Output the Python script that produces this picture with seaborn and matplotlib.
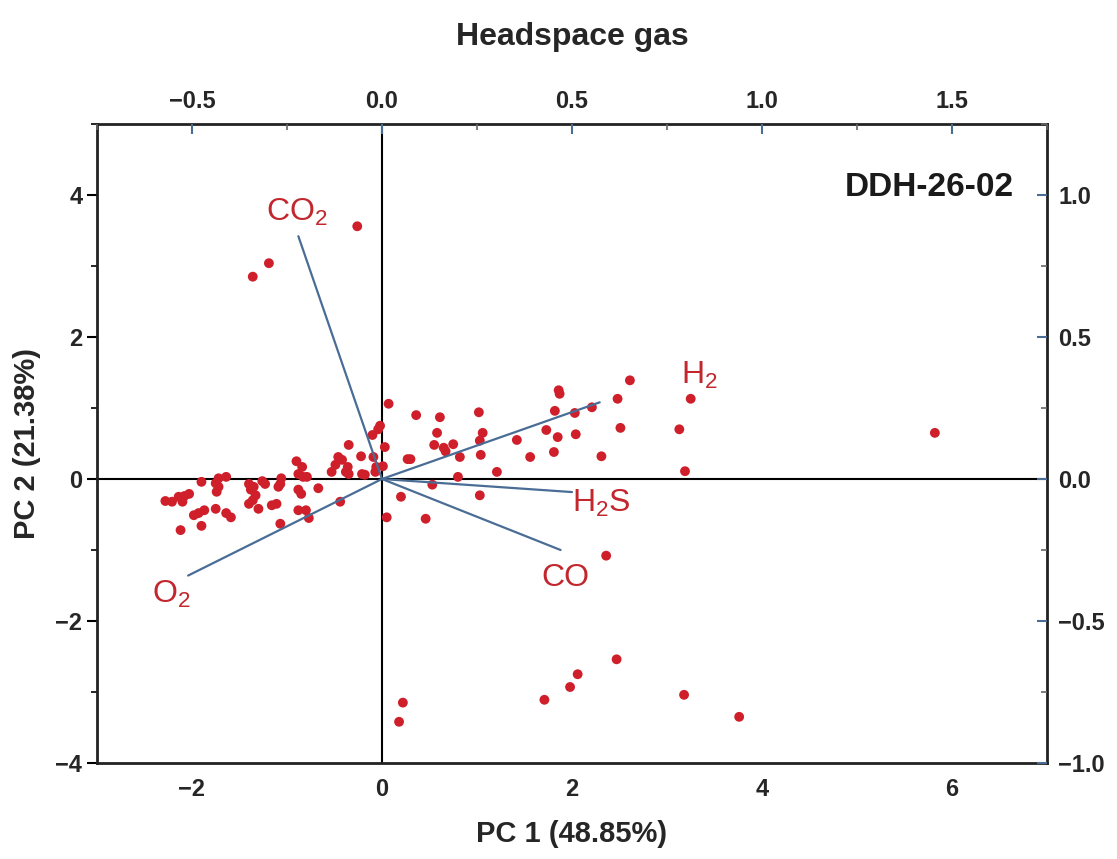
import matplotlib
matplotlib.use("Agg")
import matplotlib.pyplot as plt
import seaborn as sns
import numpy as np
import pandas as pd
from matplotlib.ticker import MultipleLocator

# ---------------------------------------------
# Scores (PC1, PC2)
# ---------------------------------------------
pc1 = [-0.26, -1.19, -1.36, 5.82, 2.61, 1.86, 1.87, 2.48, 3.25, 1.82,
       2.03, 2.21, 1.73, 1.42, 1.85, 2.04, 2.51, 3.13, 1.56, 1.81,
       2.31, 3.19, 1.21, 0.07, 0.36, 0.61, 1.02, 1.06, 0.58, 1.03,
       0.75, 0.55, 0.65, 0.67, 0.82, 1.04, 0.27, 0.30, 0.80, 0.53,
       1.03, 0.20, 0.05, 0.46, -0.02, -0.04, -0.10, 0.03, -0.35, -0.22,
       -0.09, -0.46, -0.42, -0.49, -0.53, -0.36, -0.38, -0.35, -0.21, -0.06,
       0.01, -0.07, -0.18, -0.90, -0.84, -0.88, -0.83, -0.79, -1.06, -1.07,
       -1.09, -0.67, -0.88, -0.85, -0.44, -0.88, -0.80, -0.77, -1.07, -1.26,
       -1.23, -1.40, -1.35, -1.38, -1.33, -1.36, -1.40, -1.30, -1.16, -1.11,
       -1.72, -1.64, -1.75, -1.72, -1.74, -1.90, -2.03, -2.08, -2.14, -2.21,
       -2.28, -2.10, -1.75, -1.87, -1.93, -1.98, -1.64, -1.59, -1.90, -2.12,
       2.36, 2.47, 2.06, 1.98, 1.71, 3.18, 3.76, 0.22, 0.18]
pc2 = [3.56, 3.04, 2.85, 0.65, 1.39, 1.25, 1.20, 1.13, 1.13, 0.96,
       0.93, 1.01, 0.69, 0.55, 0.59, 0.63, 0.72, 0.70, 0.31, 0.38,
       0.32, 0.11, 0.10, 1.06, 0.90, 0.87, 0.94, 0.65, 0.65, 0.54,
       0.49, 0.48, 0.44, 0.39, 0.31, 0.34, 0.28, 0.28, 0.03, -0.08,
       -0.23, -0.25, -0.54, -0.56, 0.75, 0.70, 0.62, 0.45, 0.48, 0.32,
       0.31, 0.31, 0.27, 0.20, 0.10, 0.17, 0.10, 0.07, 0.07, 0.17,
       0.18, 0.10, 0.06, 0.25, 0.17, 0.07, 0.03, 0.03, 0.01, -0.07,
       -0.11, -0.13, -0.15, -0.21, -0.32, -0.44, -0.44, -0.55, -0.63, -0.03,
       -0.07, -0.07, -0.11, -0.15, -0.23, -0.30, -0.35, -0.42, -0.37, -0.35,
       0.01, 0.03, -0.06, -0.11, -0.18, -0.04, -0.21, -0.24, -0.25, -0.32,
       -0.31, -0.32, -0.42, -0.44, -0.48, -0.51, -0.48, -0.54, -0.66, -0.72,
       -1.08, -2.54, -2.75, -2.93, -3.11, -3.04, -3.35, -3.15, -3.42]

# Loadings (top / right axes)
gases = ["CO$_\\mathregular{2}$", "H$_\\mathregular{2}$", "H$_\\mathregular{2}$S", "CO", "O$_\\mathregular{2}$"]
load_x = [-0.22, 0.573, 0.50, 0.47, -0.51]
load_y = [0.855, 0.27, -0.046, -0.25, -0.34]
# posicion de las etiquetas (en unidades PC1/PC2)
lab_x = [-0.90, 3.34, 2.31, 1.93, -2.22]
lab_y = [3.76, 1.46, -0.34, -1.39, -1.63]

df = pd.DataFrame({"PC1": pc1, "PC2": pc2})

sns.set_style("white")
plt.rcParams["font.family"] = ["Liberation Sans", "DejaVu Sans"]

rojo = "#cf1f2a"
rojo_txt = "#c1272d"
azul = "#4a6d96"

fig = plt.figure(figsize=(11.17, 8.59), dpi=100)
ax = fig.add_axes([0.0868, 0.1118, 0.8505, 0.7438])

sns.scatterplot(data=df, x="PC1", y="PC2", ax=ax, color=rojo, s=50,
                linewidth=0, edgecolor="none", zorder=3)

ax.axhline(0, color="black", lw=1.5, zorder=2)
ax.axvline(0, color="black", lw=1.5, zorder=2)

ax.set_xlim(-3, 7)
ax.set_ylim(-4, 5)
ax.xaxis.set_major_locator(MultipleLocator(2))
ax.xaxis.set_minor_locator(MultipleLocator(1))
ax.yaxis.set_major_locator(MultipleLocator(2))
ax.yaxis.set_minor_locator(MultipleLocator(1))
ax.tick_params(axis="both", which="major", direction="out", length=7, width=1.5,
               labelsize=17, color="black")
ax.tick_params(axis="both", which="minor", direction="out", length=4, width=1.2,
               color="black")
ax.set_xticks([-2, 0, 2, 4, 6])
ax.set_xticklabels(["\u22122", "0", "2", "4", "6"])
ax.set_yticks([-4, -2, 0, 2, 4])
ax.set_yticklabels(["\u22124", "\u22122", "0", "2", "4"])
for lab in ax.get_xticklabels() + ax.get_yticklabels():
    lab.set_fontweight("bold")
    lab.set_fontsize(17)

ax.set_xlabel("PC 1 (48.85%)", fontsize=21, fontweight="bold", labelpad=14)
ax.set_ylabel("PC 2 (21.38%)", fontsize=21, fontweight="bold", labelpad=10)
for s in ax.spines.values():
    s.set_linewidth(2)
    s.set_color("#222222")

# ejes secundarios para las cargas
ax2 = ax.twinx()
ax3 = ax2.twiny()
ax2.set_ylim(-1, 1.25)
ax3.set_xlim(-0.75, 1.75)
ax2.yaxis.set_minor_locator(MultipleLocator(0.25))
ax3.xaxis.set_minor_locator(MultipleLocator(0.25))
ax2.tick_params(axis="y", which="major", direction="in", length=7, width=1.5,
                color=azul, labelsize=17, pad=8)
ax2.tick_params(axis="y", which="minor", direction="in", length=4, width=1.2, color="#666666")
ax3.tick_params(axis="x", which="major", direction="in", length=7, width=1.5,
                color=azul, labelsize=17, pad=8)
ax3.tick_params(axis="x", which="minor", direction="in", length=4, width=1.2, color="#666666")
ax2.set_yticks([-1.0, -0.5, 0.0, 0.5, 1.0])
ax2.set_yticklabels(["\u22121.0", "\u22120.5", "0.0", "0.5", "1.0"])
ax3.set_xticks([-0.5, 0.0, 0.5, 1.0, 1.5])
ax3.set_xticklabels(["\u22120.5", "0.0", "0.5", "1.0", "1.5"])
for lab in ax2.get_yticklabels() + ax3.get_xticklabels():
    lab.set_fontweight("bold")
    lab.set_fontsize(17)
ax3.set_xlabel("Headspace gas", fontsize=23, fontweight="bold", labelpad=32)
for a in (ax2, ax3):
    for s in a.spines.values():
        s.set_visible(False)

for lx, ly in zip(load_x, load_y):
    ax3.plot([0, lx], [0, ly], color=azul, lw=1.6, zorder=4)

for g, tx, ty in zip(gases, lab_x, lab_y):
    ax.text(tx, ty, g, color=rojo_txt, fontsize=23, ha="center", va="center", zorder=5)

ax.text(0.965, 0.90, "DDH-26-02", transform=ax.transAxes, fontsize=24,
        fontweight="bold", ha="right", va="center", color="#1a1a1a")

fig.savefig("out.png", dpi=100)
